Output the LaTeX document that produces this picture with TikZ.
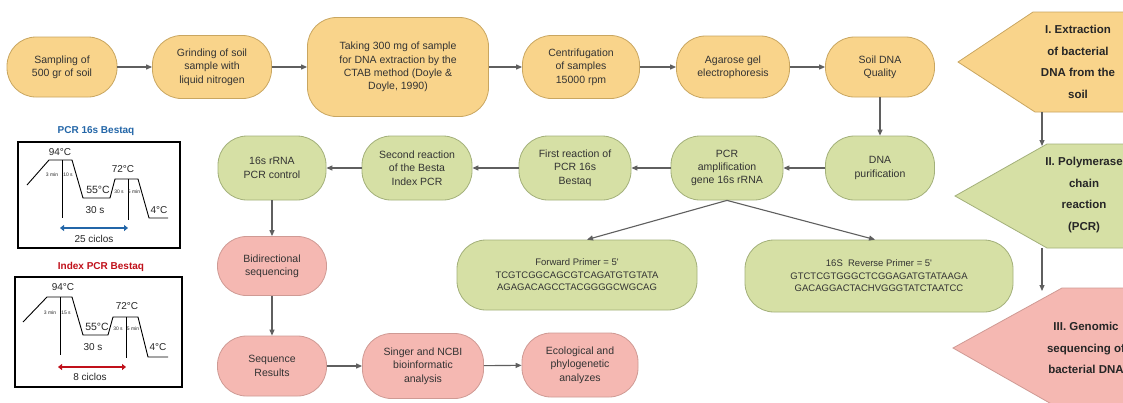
\documentclass[tikz,border=0pt]{standalone}
\usepackage{fontspec}
\setmainfont{Liberation Sans}
\usetikzlibrary{arrows.meta}
\definecolor{ofill}{HTML}{F9D48B}
\definecolor{oline}{HTML}{C9A660}
\definecolor{gfill}{HTML}{D6E0A5}
\definecolor{gline}{HTML}{A3B07A}
\definecolor{pfill}{HTML}{F5B8B2}
\definecolor{pline}{HTML}{CF9A94}
\definecolor{arrgray}{HTML}{5F5F5F}
\definecolor{txt}{HTML}{333333}
\definecolor{pcrblue}{HTML}{2366A8}
\definecolor{pcrred}{HTML}{C0101A}
\begin{document}
\begin{tikzpicture}[x=1pt,y=-1pt,
  stadium/.style={rectangle, rounded corners=29pt, line width=0.8pt, align=center, inner sep=0pt, text=txt, font=\fontsize{10.5}{13.3}\selectfont},
  ob/.style={stadium, draw=oline, fill=ofill},
  gb/.style={stadium, draw=gline, fill=gfill},
  pb/.style={stadium, draw=pline, fill=pfill},
  primer/.style={gb, font=\fontsize{9.5}{12.5}\selectfont},
  arr/.style={draw=arrgray, line width=1.1pt, -{Triangle[length=6pt,width=5pt]}},
  penta/.style={line width=0.8pt},
  ptext/.style={align=center, text=black!85, font=\bfseries\fontsize{11.5}{21.5}\selectfont},
  gline/.style={line width=0.9pt, black},
  gtxt/.style={inner sep=0pt, text=black!85, font=\fontsize{10}{12}\selectfont},
  gsmall/.style={inner sep=0pt, text=black!85, font=\fontsize{5}{6}\selectfont},
]
\useasboundingbox (0,0) rectangle (1123,402);
\fill[white] (0,0) rectangle (1123,402);

% Row 1
\node[ob, minimum width=110pt, minimum height=60pt] (s1) at (62,67) {Sampling of\\500 gr of soil};
\node[ob, minimum width=119pt, minimum height=63pt] (s2) at (212,67) {Grinding of soil\\sample with\\liquid nitrogen};
\node[ob, minimum width=181pt, minimum height=99pt] (s3) at (398,67) {Taking 300 mg of sample\\for DNA extraction by the\\CTAB method (Doyle \&\\Doyle, 1990)};
\node[ob, minimum width=117pt, minimum height=63pt] (s4) at (581,67) {Centrifugation\\of samples\\15000 rpm};
\node[ob, minimum width=113pt, minimum height=62pt] (s5) at (733,67) {Agarose gel\\electrophoresis};
\node[ob, minimum width=109pt, minimum height=60pt] (s6) at (880,67) {Soil DNA\\Quality};

% Row 2
\node[gb, minimum width=109pt, minimum height=64pt] (r1) at (880,168) {DNA\\purification};
\node[gb, minimum width=112pt, minimum height=64pt] (r2) at (727,168) {PCR\\amplification\\gene 16s rRNA};
\node[gb, minimum width=112pt, minimum height=64pt] (r3) at (575,168) {First reaction of\\PCR 16s\\Bestaq};
\node[gb, minimum width=110pt, minimum height=64pt] (r4) at (417,168) {Second reaction\\of the Besta\\Index PCR};
\node[gb, minimum width=108pt, minimum height=64pt] (r5) at (272,168) {16s rRNA\\PCR control};

% Primers
\node[primer, minimum width=240pt, minimum height=70pt] (fw) at (577,275) {Forward Primer = 5\textquotesingle\\TCGTCGGCAGCGTCAGATGTGTATA\\AGAGACAGCCTACGGGGCWGCAG};
\node[primer, minimum width=268pt, minimum height=72pt] (rv) at (879,276) {16S\ \ Reverse Primer = 5\textquotesingle\\GTCTCGTGGGCTCGGAGATGTATAAGA\\GACAGGACTACHVGGGTATCTAATCC};

% Rows 3-4
\node[pb, minimum width=109pt, minimum height=59pt] (q1) at (272,266) {Bidirectional\\sequencing};
\node[pb, minimum width=109pt, minimum height=60pt] (q2) at (272,366) {Sequence\\Results};
\node[pb, minimum width=121pt, minimum height=65pt] (q3) at (423,366) {Singer and NCBI\\bioinformatic\\analysis};
\node[pb, minimum width=116pt, minimum height=64pt] (q4) at (580,365) {Ecological and\\phylogenetic\\analyzes};

% Connectors
\draw[arr] (s1) -- (s2);
\draw[arr] (s2) -- (s3);
\draw[arr] (s3) -- (s4);
\draw[arr] (s4) -- (s5);
\draw[arr] (s5) -- (s6);
\draw[arr] (s6) -- (r1);
\draw[arr] (r1) -- (r2);
\draw[arr] (r2) -- (r3);
\draw[arr] (r3) -- (r4);
\draw[arr] (r4) -- (r5);
\draw[arr] (r5) -- (q1);
\draw[arr] (q1) -- (q2);
\draw[arr] (q2) -- (q3);
\draw[arr] (q3) -- (q4);
\draw[arr] (r2.south) -- ([xshift=10pt]fw.north);
\draw[arr] (r2.south) -- ([xshift=-4pt]rv.north);

% Pentagons
\filldraw[penta, fill=ofill, draw=oline] (1033,12) -- (1130,12) -- (1130,112) -- (1035,112) -- (958,62) -- cycle;
\filldraw[penta, fill=gfill, draw=gline] (1047,144) -- (1130,144) -- (1130,248) -- (1047,248) -- (955,196) -- cycle;
\filldraw[penta, fill=pfill, draw=pline] (1062,288) -- (1130,288) -- (1130,410) -- (1062,410) -- (953,348) -- cycle;
\node[ptext] (P1) at (1078,62) {I. Extraction\\of bacterial\\DNA from the\\soil};
\node[ptext] (P2) at (1084,195) {II. Polymerase\\chain\\reaction\\(PCR)};
\node[ptext] (P3) at (1086,348) {III. Genomic\\sequencing of\\bacterial DNA};
\coordinate (c1) at (1042,112);
\coordinate (c2) at (1042,146);
\coordinate (c3) at (1042,248);
\coordinate (c4) at (1042,291);
\draw[arr] (c1) -- (c2);
\draw[arr] (c3) -- (c4);

% PCR 16s Bestaq panel
\node[text=pcrblue, font=\bfseries\fontsize{10}{12}\selectfont] (t1) at (96,131) {PCR 16s Bestaq};
\begin{scope}[shift={(18,142)}]
  \draw[line width=2.6pt] (0,0) rectangle (162,106);
  \draw[gline] (9,43) -- (31,18) -- (54,18) -- (65,56) -- (92,56) -- (97,37) -- (120,37) -- (131,76) -- (150,76);
  \draw[gline] (44,18) -- (44,76);
  \draw[gline] (110,37) -- (110,78);
  \node[gtxt] (a1) at (42,10) {94°C};
  \node[gsmall] (a2) at (34,33) {3 min};
  \node[gsmall] (a3) at (50,33) {10 s};
  \node[gtxt, font=\fontsize{10.5}{12}\selectfont] (a4) at (80,48) {55°C};
  \node[gtxt] (a5) at (77,68) {30 s};
  \node[gtxt] (a6) at (105,27) {72°C};
  \node[gsmall] (a7) at (101,50) {30 s};
  \node[gsmall] (a8) at (116,50) {5 min};
  \node[gtxt] (a9) at (141,68) {4°C};
  \draw[pcrblue, line width=2.4pt, {Triangle[length=4pt,width=6pt]}-{Triangle[length=4pt,width=6pt]}] (42,86) -- (110,86);
  \node[gtxt] (a10) at (76,97) {25 ciclos};
\end{scope}

% Index PCR Bestaq panel
\node[text=pcrred, font=\bfseries\fontsize{10}{12}\selectfont] (t2) at (101,267) {Index PCR Bestaq};
\begin{scope}[shift={(15,277)}]
  \draw[line width=2.6pt] (0,0) rectangle (167,110);
  \draw[gline] (8,45) -- (32,20) -- (57,20) -- (68,58) -- (93,58) -- (98,40) -- (123,40) -- (133,80) -- (153,80);
  \draw[gline] (45,20) -- (45,78);
  \draw[gline] (111,40) -- (111,81);
  \node[gtxt] (b1) at (48,10) {94°C};
  \node[gsmall] (b2) at (35,36) {3 min};
  \node[gsmall] (b3) at (51,36) {15 s};
  \node[gtxt, font=\fontsize{10.5}{12}\selectfont] (b4) at (82,50) {55°C};
  \node[gtxt] (b5) at (78,70) {30 s};
  \node[gtxt] (b6) at (112,29) {72°C};
  \node[gsmall] (b7) at (103,52) {30 s};
  \node[gsmall] (b8) at (118,52) {5 min};
  \node[gtxt] (b9) at (143,70) {4°C};
  \draw[pcrred, line width=2.4pt, {Triangle[length=4pt,width=6pt]}-{Triangle[length=4pt,width=6pt]}] (43,90) -- (111,90);
  \node[gtxt] (b10) at (75,100) {8 ciclos};
\end{scope}
\end{tikzpicture}
\end{document}
